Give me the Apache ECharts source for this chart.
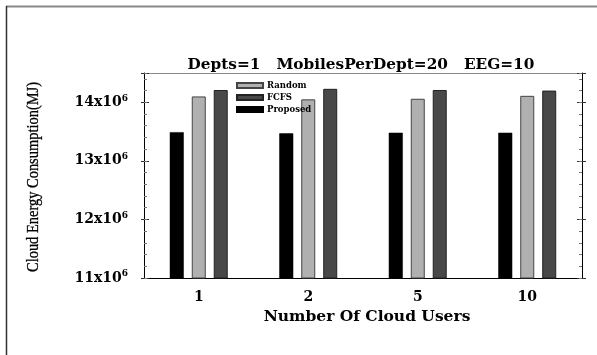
<!DOCTYPE html>
<html>
<head>
<meta charset="utf-8">
<script src="https://cdn.jsdelivr.net/npm/echarts@6/dist/echarts.min.js"></script>
<style>
  html, body { margin: 0; padding: 0; background: #fff; }
  #chart { width: 597px; height: 355px; }
</style>
</head>
<body>
<div id="chart"></div>
<script>
// Cloud energy consumption per scheduling policy
const categories = ['1', '2', '5', '10'];
const proposed = [13490000, 13470000, 13480000, 13480000];
const random   = [14100000, 14050000, 14060000, 14110000];
const fcfs     = [14210000, 14230000, 14210000, 14200000];
const yTicks   = [11, 12, 13, 14]; // millions, shown as "N x10^6"

const serifBold = 'DejaVu Serif';
const yMin = 11000000, yMax = 14500000;

function yAxisBase(extra) {
  return Object.assign({
    type: 'value', min: yMin, max: yMax, interval: 1000000,
    splitLine: { show: false },
    axisLine: { show: false },
    axisLabel: { show: false },
    axisTick: { show: false }
  }, extra);
}

const chart = echarts.init(document.getElementById('chart'));
chart.setOption({
  animation: false,
  backgroundColor: '#fff',
  title: {
    text: 'Depts=1   MobilesPerDept=20   EEG=10',
    left: 356, top: 53, textAlign: 'center',
    textStyle: { fontFamily: serifBold, fontWeight: 'bold', fontSize: 15.3, color: '#000' }
  },
  legend: {
    orient: 'vertical', left: 231, top: 76,
    itemWidth: 26, itemHeight: 5, itemGap: 3, icon: 'rect',
    data: ['Random', 'FCFS', 'Proposed'],
    textStyle: { fontFamily: serifBold, fontWeight: 'bold', fontSize: 8.5, color: '#000', padding: [0, 0, 0, -1] }
  },
  grid: { left: 144, right: 15, top: 73, bottom: 77 },
  xAxis: [{
    type: 'category', data: categories, position: 'bottom',
    axisLine: { lineStyle: { color: '#000', width: 1 } },
    axisTick: { alignWithLabel: true, length: 3, lineStyle: { color: '#555' } },
    axisLabel: { margin: 12, fontFamily: serifBold, fontWeight: 'bold', fontSize: 14, color: '#000' },
    name: 'Number Of Cloud Users', nameLocation: 'middle', nameGap: 25,
    nameTextStyle: { fontFamily: serifBold, fontWeight: 'bold', fontSize: 15.5, color: '#000', padding: [0, 0, 0, 8] }
  }, {
    type: 'category', data: categories, position: 'top',
    axisLine: { lineStyle: { color: '#888', width: 1 } },
    axisTick: { show: false }, axisLabel: { show: false }
  }],
  yAxis: [
    yAxisBase({
      position: 'left',
      axisLine: { show: true, lineStyle: { color: '#000' } },
      axisTick: { show: true, inside: true, length: 5, lineStyle: { color: '#333' } },
      axisLabel: {
        show: true, margin: 16,
        formatter: function (v) {
          const m = v / 1000000;
          return yTicks.indexOf(m) >= 0 ? '{a|' + m + 'x10}{b|6}' : '';
        },
        rich: {
          a: { fontFamily: serifBold, fontWeight: 'bold', fontSize: 14, color: '#000' },
          b: { fontFamily: serifBold, fontWeight: 'bold', fontSize: 9, color: '#000', verticalAlign: 'bottom', padding: [0, 0, 8, 0] }
        }
      }
    }),
    yAxisBase({ position: 'left', axisTick: { show: true, length: 3, lineStyle: { color: '#333' } } }),
    yAxisBase({ position: 'left', interval: 200000, axisTick: { show: true, inside: true, length: 3, lineStyle: { color: '#777' } } }),
    yAxisBase({
      position: 'right',
      axisLine: { show: true, lineStyle: { color: '#000' } },
      axisTick: { show: true, inside: true, length: 5, lineStyle: { color: '#333' } }
    }),
    yAxisBase({ position: 'right', axisTick: { show: true, length: 4, lineStyle: { color: '#333' } } }),
    yAxisBase({ position: 'right', interval: 200000, axisTick: { show: true, inside: true, length: 3, lineStyle: { color: '#777' } } })
  ],
  series: [
    {
      name: 'Proposed', type: 'bar', data: proposed, barWidth: 14, barGap: '57%',
      itemStyle: { color: '#000', borderColor: '#000', borderWidth: 0.5 }
    },
    {
      name: 'Random', type: 'bar', data: random, barWidth: 14, barGap: '57%',
      itemStyle: { color: '#b0b0b0', borderColor: '#444', borderWidth: 1 }
    },
    {
      name: 'FCFS', type: 'bar', data: fcfs, barWidth: 14, barGap: '57%',
      itemStyle: { color: '#484848', borderColor: '#222', borderWidth: 1 }
    }
  ],
  graphic: [
    {
      type: 'text', x: 34, y: 177, rotation: Math.PI / 2, scaleX: 0.85,
      style: {
        text: 'Cloud Energy Consumption(MJ)', align: 'center', verticalAlign: 'middle',
        fontFamily: 'Liberation Serif', fontSize: 17, fill: '#000',
        stroke: '#000', lineWidth: 0.3
      }
    },
    { type: 'line', shape: { x1: 6, y1: 6.5, x2: 597, y2: 6.5 }, style: { stroke: '#888', lineWidth: 2 } },
    { type: 'line', shape: { x1: 6.5, y1: 6, x2: 6.5, y2: 355 }, style: { stroke: '#333', lineWidth: 1.5 } }
  ]
});
</script>
</body>
</html>
